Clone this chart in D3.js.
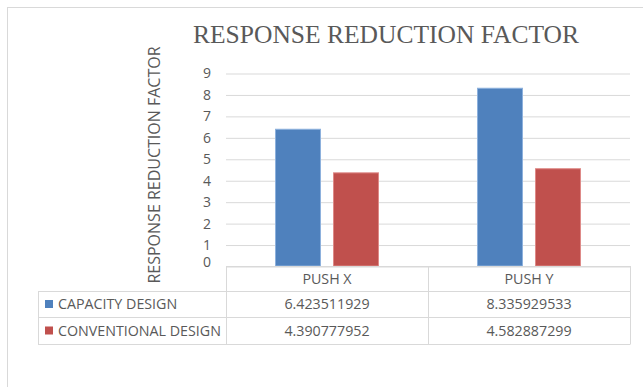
<!DOCTYPE html>
<html>
<head>
<meta charset="utf-8">
<script src="https://cdn.jsdelivr.net/npm/d3@7"></script>
<style>
  body { margin: 0; background: #fff; }
  svg { display: block; }
  text { font-family: "Open Sans", sans-serif; fill: #595959; }
</style>
</head>
<body>
<svg id="chart"></svg>
<script>
const WIDTH = 643;
const HEIGHT = 387;

const TITLE = "RESPONSE REDUCTION FACTOR";
const Y_TITLE = "RESPONSE REDUCTION FACTOR";

const categories = ["PUSH X", "PUSH Y"];
const seriesNames = ["CAPACITY DESIGN", "CONVENTIONAL DESIGN"];
const capacityValues = [6.423511929, 8.335929533];
const conventionalValues = [4.390777952, 4.582887299];
const yTicks = [0, 1, 2, 3, 4, 5, 6, 7, 8, 9];

const COLORS = ["#4F81BD", "#C0504D"];
const EDGES = ["#8DB1DD", "#DE8A88"];
const GRID = "#D9D9D9";

// plot box
const PLOT_LEFT = 226, PLOT_RIGHT = 630;
const PLOT_TOP = 73.5, PLOT_BOTTOM = 266.5;

// table rows
const TABLE_LEFT = 38;
const ROW_TOP = [266, 291, 317, 344];

// squeeze glyphs a bit, Calibri is narrower than what we have
const CONDENSE = 0.95;

function condense(sel, f){
    sel.each(function(){
        var w = this.getComputedTextLength();
        d3.select(this).attr("textLength", w * f).attr("lengthAdjust", "spacingAndGlyphs");
    });
}

function main(){
    var svg = d3.select("#chart")
        .attr("width", WIDTH)
        .attr("height", HEIGHT);

    // outer frame
    svg.append("rect")
        .attr("x", 7.5).attr("y", 7.5)
        .attr("width", WIDTH + 20).attr("height", HEIGHT + 20)
        .attr("fill", "none")
        .attr("stroke", GRID);

    var values = [capacityValues, conventionalValues];
    var rows = categories.map((c, i)=>({cat: c, vals: values.map(v=>v[i])}));

    var x0 = d3.scaleBand()
        .domain(categories)
        .range([PLOT_LEFT, PLOT_RIGHT]);

    var x1 = d3.scaleBand()
        .domain(seriesNames)
        .range([0, x0.bandwidth()])
        .paddingInner(0.207)
        .paddingOuter(0.845);

    var y = d3.scaleLinear()
        .domain([0, 9])
        .range([PLOT_BOTTOM, PLOT_TOP]);

    // gridlines + tick labels
    var yAxis = svg.append("g")
        .attr("transform", "translate(" + PLOT_LEFT + ",0)")
        .call(d3.axisLeft(y)
            .tickValues(yTicks)
            .tickFormat(d3.format("d"))
            .tickSize(-(PLOT_RIGHT - PLOT_LEFT))
            .tickPadding(15));
    yAxis.select(".domain").remove();
    yAxis.selectAll("line").attr("stroke", GRID);
    yAxis.selectAll("text")
        .attr("fill", "#595959")
        .style("font-family", "'Open Sans', sans-serif")
        .style("font-size", "14px");
    // excel nudges the 0 label up above the table
    yAxis.selectAll(".tick text").filter(d=>d === 0).attr("y", -4);

    // bars
    var groups = svg.selectAll("g.cat")
        .data(rows)
        .enter()
        .append("g")
        .attr("class", "cat")
        .attr("transform", d=>"translate(" + x0(d.cat) + ",0)");

    groups.selectAll("rect")
        .data(d=>d.vals.map((v, i)=>({name: seriesNames[i], v: v, i: i})))
        .enter()
        .append("rect")
        .attr("x", d=>x1(d.name) + 0.5)
        .attr("y", d=>y(d.v) + 0.5)
        .attr("width", x1.bandwidth() - 1)
        .attr("height", d=>y(0) - y(d.v) - 1)
        .attr("fill", d=>COLORS[d.i])
        .attr("stroke", d=>EDGES[d.i])
        .attr("stroke-width", 1);

    // data table
    var table = svg.append("g").attr("class", "table");
    var tline = (x1_, y1_, x2_, y2_)=>table.append("line")
        .attr("x1", x1_).attr("y1", y1_).attr("x2", x2_).attr("y2", y2_)
        .attr("stroke", GRID);

    tline(PLOT_LEFT, ROW_TOP[0] + 0.5, PLOT_RIGHT, ROW_TOP[0] + 0.5);
    ROW_TOP.slice(1).forEach(r=>tline(TABLE_LEFT, r + 0.5, PLOT_RIGHT, r + 0.5));
    tline(TABLE_LEFT + 0.5, ROW_TOP[1], TABLE_LEFT + 0.5, ROW_TOP[3] + 0.5);
    categories.forEach(c=>tline(x0(c) + 0.5, ROW_TOP[0], x0(c) + 0.5, ROW_TOP[3] + 0.5));
    tline(PLOT_RIGHT + 0.5, ROW_TOP[0], PLOT_RIGHT + 0.5, ROW_TOP[3] + 0.5);

    var rowMid = i=>(ROW_TOP[i] + ROW_TOP[i + 1]) / 2;

    var head = table.selectAll("text.head")
        .data(categories)
        .enter()
        .append("text")
        .attr("class", "head")
        .attr("x", d=>x0(d) + x0.bandwidth() / 2)
        .attr("y", rowMid(0))
        .attr("dy", "0.36em")
        .attr("text-anchor", "middle")
        .style("font-size", "15px")
        .text(d=>d);
    condense(head, CONDENSE);

    seriesNames.forEach((name, i)=>{
        table.append("rect")
            .attr("x", 45).attr("y", rowMid(i + 1) - 4)
            .attr("width", 8).attr("height", 8)
            .attr("fill", COLORS[i]);
        var lab = table.append("text")
            .attr("x", 58)
            .attr("y", rowMid(i + 1))
            .attr("dy", "0.36em")
            .style("font-size", "15px")
            .text(name);
        condense(lab, CONDENSE);

        var nums = table.selectAll("text.v" + i)
            .data(values[i])
            .enter()
            .append("text")
            .attr("class", "v" + i)
            .attr("x", (d, j)=>x0(categories[j]) + x0.bandwidth() / 2)
            .attr("y", rowMid(i + 1))
            .attr("dy", "0.36em")
            .attr("text-anchor", "middle")
            .style("font-size", "15px")
            .text(d=>d.toFixed(9));
        condense(nums, CONDENSE);
    });

    // titles
    svg.append("text")
        .attr("x", 386)
        .attr("y", 43)
        .attr("text-anchor", "middle")
        .attr("textLength", 386)
        .attr("lengthAdjust", "spacingAndGlyphs")
        .style("font-family", "'Liberation Serif', 'Times New Roman', serif")
        .style("font-size", "26px")
        .text(TITLE);

    var yTitle = svg.append("text")
        .attr("transform", "translate(160,165) rotate(-90)")
        .attr("text-anchor", "middle")
        .style("font-size", "16px")
        .text(Y_TITLE);
    condense(yTitle, 1.0);
}

window.addEventListener("load", main);
</script>
</body>
</html>
